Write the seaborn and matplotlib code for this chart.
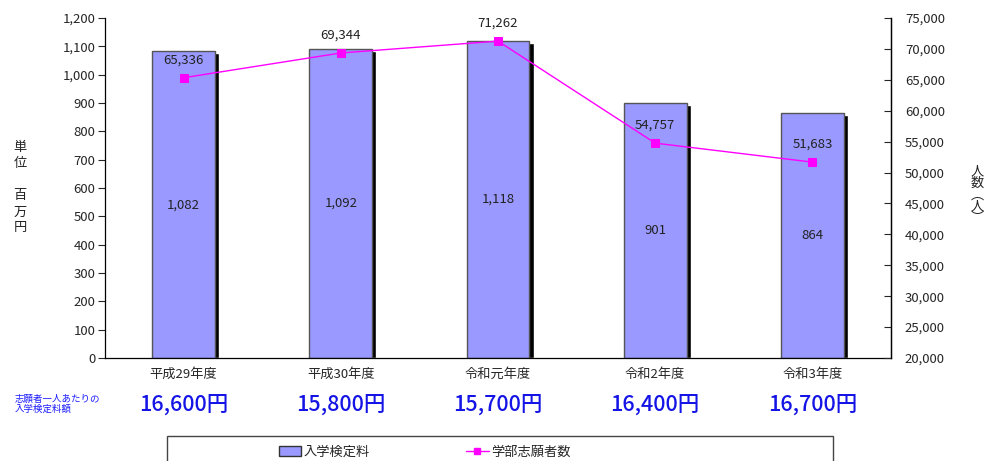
import matplotlib
matplotlib.use("Agg")
import matplotlib.pyplot as plt
import seaborn as sns
import pandas as pd
from matplotlib.patches import Rectangle, Patch
from matplotlib.lines import Line2D
from matplotlib.ticker import FuncFormatter, MultipleLocator

sns.set_style("white")
plt.rcParams['font.family'] = ['Noto Sans CJK JP', 'DejaVu Sans']

years = ["平成29年度", "平成30年度", "令和元年度", "令和2年度", "令和3年度"]
fee_total = [1082, 1092, 1118, 901, 864]          # 入学検定料 (百万円)
applicants = [65336, 69344, 71262, 54757, 51683]  # 学部志願者数 (人)
fee_per_person = ["16,600円", "15,800円", "15,700円", "16,400円", "16,700円"]

df = pd.DataFrame({"year": years, "fee": fee_total, "applicants": applicants})

W, H = 987, 461
fig = plt.figure(figsize=(W / 100, H / 100), dpi=100)
ax = fig.add_axes([105/W, 1-358/H, (891-105)/W, (358-18)/H])

bar_color = "#9999FF"
bar_w = 0.40
shadow_dx = 0.027

# dark drop shadow behind each bar
pos = list(range(len(years)))
ax.bar([p + shadow_dx for p in pos], [v - 7 for v in fee_total], width=bar_w,
       color="black", zorder=1)
sns.barplot(data=df, x="year", y="fee", color=bar_color, width=bar_w,
            edgecolor="#555555", linewidth=1.0, saturation=1, ax=ax, zorder=2)

for p, v in zip(pos, fee_total):
    ax.text(p, v / 2, f"{v:,}", ha="center", va="center", fontsize=9.5,
            color="#222222", zorder=5)

ax.set_ylim(0, 1200)
ax.set_xlim(-0.5, len(years) - 0.5)
ax.yaxis.set_major_locator(MultipleLocator(100))
ax.yaxis.set_major_formatter(FuncFormatter(lambda v, _: f"{int(v):,}"))
ax.set_xlabel("")
ax.set_ylabel("")
ax.tick_params(axis="y", direction="out", length=5, width=0.8, labelsize=9.5,
               left=True, pad=2)
ax.tick_params(axis="x", length=0, labelsize=9.5, pad=7)
ax.spines["top"].set_visible(False)
for s in ["left", "bottom", "right"]:
    ax.spines[s].set_color("black")
    ax.spines[s].set_linewidth(0.9)

ax2 = ax.twinx()
sns.lineplot(x=pos, y=applicants, color="#FF00FF", marker="s", markersize=6,
             markeredgecolor="#FF00FF", linewidth=1.0, ax=ax2, zorder=4)
for p, v in zip(pos, applicants):
    ax2.annotate(f"{v:,}", (p, v), xytext=(0, 13), textcoords="offset points",
                 ha="center", va="center", fontsize=9.5, color="#222222")
ax2.set_ylim(20000, 75000)
ax2.yaxis.set_major_locator(MultipleLocator(5000))
ax2.yaxis.set_major_formatter(FuncFormatter(lambda v, _: f"{int(v):,}"))
ax2.tick_params(axis="y", direction="in", length=5, width=0.8, labelsize=9.5,
                right=True, pad=10)
for s in ["top", "left", "bottom"]:
    ax2.spines[s].set_visible(False)
ax2.spines["right"].set_color("black")
ax2.spines["right"].set_linewidth(0.9)
ax2.set_ylabel("")

# axis titles, stacked vertically
fig.text(20/W, 1-188/H, "単\n位\n\n百\n万\n円", ha="center", va="center",
         fontsize=9.5, linespacing=1.3, color="#222222")
fig.text(977/W, 1-195/H, "人\n数\n︵\n人\n︶", ha="center", va="center",
         fontsize=9.5, linespacing=0.85, color="#222222")

# fee per applicant row
fig.text(15/W, 1-404/H, "志願者一人あたりの\n入学検定料額", ha="left", va="center",
         fontsize=6.8, color="#1a1aff", linespacing=1.1)
for p, t in zip(pos, fee_per_person):
    xd = ax.transData.transform((p, 0))[0]
    fig.text(xd / W, 1-405/H, t, ha="center", va="center", fontsize=15.5,
             fontweight="medium", color="#1414E6")

# legend box
fig.patches.append(Rectangle((167/W, -0.05), (833-167)/W, 0.05 + (461-436)/H,
                             transform=fig.transFigure, facecolor="white",
                             edgecolor="#444444", linewidth=1.0))
handles = [Patch(facecolor=bar_color, edgecolor="#333333", linewidth=1.0),
           Line2D([0], [0], color="#FF00FF", marker="s", markersize=5, linewidth=1.0)]
fig.legend(handles, ["入学検定料", "学部志願者数"], loc="center left",
           bbox_to_anchor=(272/W, 1-452/H), ncol=2, frameon=False,
           fontsize=9.5, columnspacing=7.3, handlelength=1.7, handletextpad=0.2,
           borderpad=0)

fig.savefig("out.png", dpi=100)
